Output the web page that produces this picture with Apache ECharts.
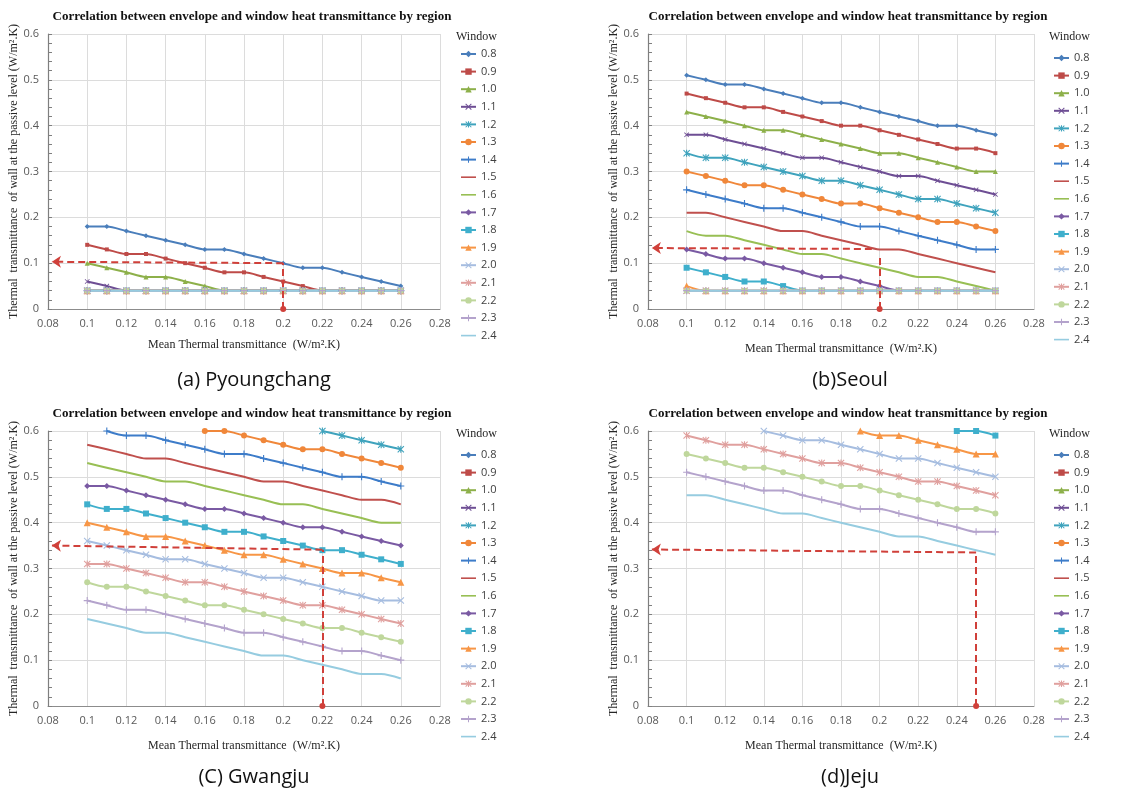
<!DOCTYPE html>
<html>
<head>
<meta charset="utf-8">
<title>Envelope vs window heat transmittance</title>
<script src="https://cdn.jsdelivr.net/npm/echarts@6/dist/echarts.min.js"></script>
<style>
    html, body { margin: 0; padding: 0; background: #fff; }
    #main { width: 1138px; height: 790px; }
</style>
</head>
<body>
<div id="main"></div>
<script>
    // x positions (mean thermal transmittance) and window U-values
    var xValues = [0.10, 0.11, 0.12, 0.13, 0.14, 0.15, 0.16, 0.17, 0.18, 0.19, 0.20, 0.21, 0.22, 0.23, 0.24, 0.25, 0.26];
    var windowLabels = ['0.8', '0.9', '1.0', '1.1', '1.2', '1.3', '1.4', '1.5', '1.6', '1.7', '1.8', '1.9', '2.0', '2.1', '2.2', '2.3', '2.4'];
    var xTicks = [0.08, 0.1, 0.12, 0.14, 0.16, 0.18, 0.2, 0.22, 0.24, 0.26, 0.28];
    var yTicks = [0, 0.1, 0.2, 0.3, 0.4, 0.5, 0.6];

    // one row per window value, null = off the chart (above 0.6)
    var pyoungchang = [
        [0.18, 0.18, 0.17, 0.16, 0.15, 0.14, 0.13, 0.13, 0.12, 0.11, 0.10, 0.09, 0.09, 0.08, 0.07, 0.06, 0.05],
        [0.14, 0.13, 0.12, 0.12, 0.11, 0.10, 0.09, 0.08, 0.08, 0.07, 0.06, 0.05, 0.04, 0.04, 0.04, 0.04, 0.04],
        [0.10, 0.09, 0.08, 0.07, 0.07, 0.06, 0.05, 0.04, 0.04, 0.04, 0.04, 0.04, 0.04, 0.04, 0.04, 0.04, 0.04],
        [0.06, 0.05, 0.04, 0.04, 0.04, 0.04, 0.04, 0.04, 0.04, 0.04, 0.04, 0.04, 0.04, 0.04, 0.04, 0.04, 0.04],
        [0.04, 0.04, 0.04, 0.04, 0.04, 0.04, 0.04, 0.04, 0.04, 0.04, 0.04, 0.04, 0.04, 0.04, 0.04, 0.04, 0.04],
        [0.04, 0.04, 0.04, 0.04, 0.04, 0.04, 0.04, 0.04, 0.04, 0.04, 0.04, 0.04, 0.04, 0.04, 0.04, 0.04, 0.04],
        [0.04, 0.04, 0.04, 0.04, 0.04, 0.04, 0.04, 0.04, 0.04, 0.04, 0.04, 0.04, 0.04, 0.04, 0.04, 0.04, 0.04],
        [0.04, 0.04, 0.04, 0.04, 0.04, 0.04, 0.04, 0.04, 0.04, 0.04, 0.04, 0.04, 0.04, 0.04, 0.04, 0.04, 0.04],
        [0.04, 0.04, 0.04, 0.04, 0.04, 0.04, 0.04, 0.04, 0.04, 0.04, 0.04, 0.04, 0.04, 0.04, 0.04, 0.04, 0.04],
        [0.04, 0.04, 0.04, 0.04, 0.04, 0.04, 0.04, 0.04, 0.04, 0.04, 0.04, 0.04, 0.04, 0.04, 0.04, 0.04, 0.04],
        [0.04, 0.04, 0.04, 0.04, 0.04, 0.04, 0.04, 0.04, 0.04, 0.04, 0.04, 0.04, 0.04, 0.04, 0.04, 0.04, 0.04],
        [0.04, 0.04, 0.04, 0.04, 0.04, 0.04, 0.04, 0.04, 0.04, 0.04, 0.04, 0.04, 0.04, 0.04, 0.04, 0.04, 0.04],
        [0.04, 0.04, 0.04, 0.04, 0.04, 0.04, 0.04, 0.04, 0.04, 0.04, 0.04, 0.04, 0.04, 0.04, 0.04, 0.04, 0.04],
        [0.04, 0.04, 0.04, 0.04, 0.04, 0.04, 0.04, 0.04, 0.04, 0.04, 0.04, 0.04, 0.04, 0.04, 0.04, 0.04, 0.04],
        [0.04, 0.04, 0.04, 0.04, 0.04, 0.04, 0.04, 0.04, 0.04, 0.04, 0.04, 0.04, 0.04, 0.04, 0.04, 0.04, 0.04],
        [0.04, 0.04, 0.04, 0.04, 0.04, 0.04, 0.04, 0.04, 0.04, 0.04, 0.04, 0.04, 0.04, 0.04, 0.04, 0.04, 0.04],
        [0.04, 0.04, 0.04, 0.04, 0.04, 0.04, 0.04, 0.04, 0.04, 0.04, 0.04, 0.04, 0.04, 0.04, 0.04, 0.04, 0.04]
    ];
    var seoul = [
        [0.51, 0.50, 0.49, 0.49, 0.48, 0.47, 0.46, 0.45, 0.45, 0.44, 0.43, 0.42, 0.41, 0.40, 0.40, 0.39, 0.38],
        [0.47, 0.46, 0.45, 0.44, 0.44, 0.43, 0.42, 0.41, 0.40, 0.40, 0.39, 0.38, 0.37, 0.36, 0.35, 0.35, 0.34],
        [0.43, 0.42, 0.41, 0.40, 0.39, 0.39, 0.38, 0.37, 0.36, 0.35, 0.34, 0.34, 0.33, 0.32, 0.31, 0.30, 0.30],
        [0.38, 0.38, 0.37, 0.36, 0.35, 0.34, 0.33, 0.33, 0.32, 0.31, 0.30, 0.29, 0.29, 0.28, 0.27, 0.26, 0.25],
        [0.34, 0.33, 0.33, 0.32, 0.31, 0.30, 0.29, 0.28, 0.28, 0.27, 0.26, 0.25, 0.24, 0.24, 0.23, 0.22, 0.21],
        [0.30, 0.29, 0.28, 0.27, 0.27, 0.26, 0.25, 0.24, 0.23, 0.23, 0.22, 0.21, 0.20, 0.19, 0.19, 0.18, 0.17],
        [0.26, 0.25, 0.24, 0.23, 0.22, 0.22, 0.21, 0.20, 0.19, 0.18, 0.18, 0.17, 0.16, 0.15, 0.14, 0.13, 0.13],
        [0.21, 0.21, 0.20, 0.19, 0.18, 0.17, 0.17, 0.16, 0.15, 0.14, 0.13, 0.13, 0.12, 0.11, 0.10, 0.09, 0.08],
        [0.17, 0.16, 0.16, 0.15, 0.14, 0.13, 0.12, 0.12, 0.11, 0.10, 0.09, 0.08, 0.07, 0.07, 0.06, 0.05, 0.04],
        [0.13, 0.12, 0.11, 0.11, 0.10, 0.09, 0.08, 0.07, 0.07, 0.06, 0.05, 0.04, 0.04, 0.04, 0.04, 0.04, 0.04],
        [0.09, 0.08, 0.07, 0.06, 0.06, 0.05, 0.04, 0.04, 0.04, 0.04, 0.04, 0.04, 0.04, 0.04, 0.04, 0.04, 0.04],
        [0.05, 0.04, 0.04, 0.04, 0.04, 0.04, 0.04, 0.04, 0.04, 0.04, 0.04, 0.04, 0.04, 0.04, 0.04, 0.04, 0.04],
        [0.04, 0.04, 0.04, 0.04, 0.04, 0.04, 0.04, 0.04, 0.04, 0.04, 0.04, 0.04, 0.04, 0.04, 0.04, 0.04, 0.04],
        [0.04, 0.04, 0.04, 0.04, 0.04, 0.04, 0.04, 0.04, 0.04, 0.04, 0.04, 0.04, 0.04, 0.04, 0.04, 0.04, 0.04],
        [0.04, 0.04, 0.04, 0.04, 0.04, 0.04, 0.04, 0.04, 0.04, 0.04, 0.04, 0.04, 0.04, 0.04, 0.04, 0.04, 0.04],
        [0.04, 0.04, 0.04, 0.04, 0.04, 0.04, 0.04, 0.04, 0.04, 0.04, 0.04, 0.04, 0.04, 0.04, 0.04, 0.04, 0.04],
        [0.04, 0.04, 0.04, 0.04, 0.04, 0.04, 0.04, 0.04, 0.04, 0.04, 0.04, 0.04, 0.04, 0.04, 0.04, 0.04, 0.04]
    ];
    var gwangju = [
        [null, null, null, null, null, null, null, null, null, null, null, null, null, null, null, null, null],
        [null, null, null, null, null, null, null, null, null, null, null, null, null, null, null, null, null],
        [null, null, null, null, null, null, null, null, null, null, null, null, null, null, null, null, null],
        [null, null, null, null, null, null, null, null, null, null, null, null, null, null, null, null, null],
        [null, null, null, null, null, null, null, null, null, null, null, null, 0.60, 0.59, 0.58, 0.57, 0.56],
        [null, null, null, null, null, null, 0.60, 0.60, 0.59, 0.58, 0.57, 0.56, 0.56, 0.55, 0.54, 0.53, 0.52],
        [null, 0.60, 0.59, 0.59, 0.58, 0.57, 0.56, 0.55, 0.55, 0.54, 0.53, 0.52, 0.51, 0.50, 0.50, 0.49, 0.48],
        [0.57, 0.56, 0.55, 0.54, 0.54, 0.53, 0.52, 0.51, 0.50, 0.49, 0.49, 0.48, 0.47, 0.46, 0.45, 0.45, 0.44],
        [0.53, 0.52, 0.51, 0.50, 0.49, 0.49, 0.48, 0.47, 0.46, 0.45, 0.44, 0.44, 0.43, 0.42, 0.41, 0.40, 0.40],
        [0.48, 0.48, 0.47, 0.46, 0.45, 0.44, 0.43, 0.43, 0.42, 0.41, 0.40, 0.39, 0.39, 0.38, 0.37, 0.36, 0.35],
        [0.44, 0.43, 0.43, 0.42, 0.41, 0.40, 0.39, 0.38, 0.38, 0.37, 0.36, 0.35, 0.34, 0.34, 0.33, 0.32, 0.31],
        [0.40, 0.39, 0.38, 0.37, 0.37, 0.36, 0.35, 0.34, 0.33, 0.33, 0.32, 0.31, 0.30, 0.29, 0.29, 0.28, 0.27],
        [0.36, 0.35, 0.34, 0.33, 0.32, 0.32, 0.31, 0.30, 0.29, 0.28, 0.28, 0.27, 0.26, 0.25, 0.24, 0.23, 0.23],
        [0.31, 0.31, 0.30, 0.29, 0.28, 0.27, 0.27, 0.26, 0.25, 0.24, 0.23, 0.22, 0.22, 0.21, 0.20, 0.19, 0.18],
        [0.27, 0.26, 0.26, 0.25, 0.24, 0.23, 0.22, 0.22, 0.21, 0.20, 0.19, 0.18, 0.17, 0.17, 0.16, 0.15, 0.14],
        [0.23, 0.22, 0.21, 0.21, 0.20, 0.19, 0.18, 0.17, 0.16, 0.16, 0.15, 0.14, 0.13, 0.12, 0.12, 0.11, 0.10],
        [0.19, 0.18, 0.17, 0.16, 0.16, 0.15, 0.14, 0.13, 0.12, 0.11, 0.11, 0.10, 0.09, 0.08, 0.07, 0.07, 0.06]
    ];
    var jeju = [
        [null, null, null, null, null, null, null, null, null, null, null, null, null, null, null, null, null],
        [null, null, null, null, null, null, null, null, null, null, null, null, null, null, null, null, null],
        [null, null, null, null, null, null, null, null, null, null, null, null, null, null, null, null, null],
        [null, null, null, null, null, null, null, null, null, null, null, null, null, null, null, null, null],
        [null, null, null, null, null, null, null, null, null, null, null, null, null, null, null, null, null],
        [null, null, null, null, null, null, null, null, null, null, null, null, null, null, null, null, null],
        [null, null, null, null, null, null, null, null, null, null, null, null, null, null, null, null, null],
        [null, null, null, null, null, null, null, null, null, null, null, null, null, null, null, null, null],
        [null, null, null, null, null, null, null, null, null, null, null, null, null, null, null, null, null],
        [null, null, null, null, null, null, null, null, null, null, null, null, null, null, null, null, null],
        [null, null, null, null, null, null, null, null, null, null, null, null, null, null, 0.60, 0.60, 0.59],
        [null, null, null, null, null, null, null, null, null, 0.60, 0.59, 0.59, 0.58, 0.57, 0.56, 0.55, 0.55],
        [null, null, null, null, 0.60, 0.59, 0.58, 0.58, 0.57, 0.56, 0.55, 0.54, 0.54, 0.53, 0.52, 0.51, 0.50],
        [0.59, 0.58, 0.57, 0.57, 0.56, 0.55, 0.54, 0.53, 0.53, 0.52, 0.51, 0.50, 0.49, 0.49, 0.48, 0.47, 0.46],
        [0.55, 0.54, 0.53, 0.52, 0.52, 0.51, 0.50, 0.49, 0.48, 0.48, 0.47, 0.46, 0.45, 0.44, 0.43, 0.43, 0.42],
        [0.51, 0.50, 0.49, 0.48, 0.47, 0.47, 0.46, 0.45, 0.44, 0.43, 0.43, 0.42, 0.41, 0.40, 0.39, 0.38, 0.38],
        [0.46, 0.46, 0.45, 0.44, 0.43, 0.42, 0.42, 0.41, 0.40, 0.39, 0.38, 0.37, 0.37, 0.36, 0.35, 0.34, 0.33]
    ];
    var captions = ['(a) Pyoungchang', '(b)Seoul', '(C) Gwangju', '(d)Jeju'];

    // red dashed reading guides: vertical [x, y0, y1], horizontal [x0, y0, x1, y1]
    var guideVert = [[0.2, 0, 0.10], [0.2, 0, 0.116], [0.22, 0, 0.341], [0.25, 0, 0.336]];
    var guideHorz = [[0.2, 0.10, 0.082, 0.103], [0.196, 0.131, 0.082, 0.133], [0.22, 0.341, 0.082, 0.350], [0.25, 0.335, 0.082, 0.3415]];

    var chartTitle = 'Correlation between envelope and window heat transmittance by region';
    var xName = 'Mean Thermal transmittance  (W/m\u00b2.K)';
    var yName = 'Thermal  transmittance  of wall at the passive level (W/m\u00b2.K)';

    // excel-like markers
    var X = 'path://M0,1.1L1.1,0L10,8.9L8.9,10ZM8.9,0L10,1.1L1.1,10L0,8.9Z';
    var AST = 'path://M0,1.1L1.1,0L10,8.9L8.9,10ZM8.9,0L10,1.1L1.1,10L0,8.9ZM4.2,0L5.8,0L5.8,10L4.2,10Z';
    var PLUS = 'path://M4.2,0h1.6v4.2h4.2v1.6h-4.2v4.2h-1.6v-4.2h-4.2v-1.6h4.2z';
    var LINE_ICON = 'path://M0,0h24v2.6h-24z';
    var colors = ['#4A7EBB', '#BE4B48', '#8DB04A', '#6E4E94', '#3FA3BD', '#F0873A', '#3D7CC9', '#C0504D', '#98BF54', '#7A5AA3', '#3FAFCC', '#F79646',
        '#A6BDE0', '#E0A09E', '#BFD79C', '#B4A3CC', '#96CCE0'];
    var symbols = ['diamond', 'rect', 'triangle', X, AST, 'circle', PLUS, 'none', 'none', 'diamond', 'rect', 'triangle', X, AST, 'circle', PLUS, 'none'];
    var symSizes = [5, 4, 5, 5, 7, 6, 7, 0, 0, 6, 6, 7, 7, 7, 6, 7, 0];

    // panel layout
    var panels = [
        { left: 48, top: 34, width: 392, cx: 252, titleY: 10, legX: 460, legY: 48, winY: 31, capY: 370, xGap: 30 },
        { left: 648, top: 34, width: 386, cx: 848, titleY: 10, legX: 1053, legY: 52, winY: 31, capY: 370, xGap: 34 },
        { left: 48, top: 431, width: 392, cx: 252, titleY: 407, legX: 460, legY: 449, winY: 428, capY: 767, xGap: 34 },
        { left: 648, top: 431, width: 386, cx: 848, titleY: 407, legX: 1053, legY: 449, winY: 428, capY: 767, xGap: 34 }
    ];
    var regions = [pyoungchang, seoul, gwangju, jeju];

    var serif = '"Liberation Serif", "Times New Roman", serif';
    var sans = '"Open Sans", "Noto Sans", sans-serif';

    var legendData = windowLabels.map(function (name, k) {
        return symbols[k] === 'none' ? { name: name, icon: LINE_ICON } : { name: name };
    });

    var grids = [], xAxes = [], yAxes = [], legends = [], titles = [], series = [];

    panels.forEach(function (p, g) {
        grids.push({ left: p.left, top: p.top, width: p.width, height: 275, containLabel: false });
        xAxes.push({
            type: 'value', gridIndex: g, min: xTicks[0], max: xTicks[xTicks.length - 1], interval: 0.02,
            name: xName, nameLocation: 'middle', nameGap: p.xGap,
            nameTextStyle: { fontFamily: serif, fontSize: 12, color: '#262626' },
            axisLine: { show: true, lineStyle: { color: '#8C8C8C', width: 1 } },
            axisTick: { show: false },
            axisLabel: { fontFamily: sans, fontSize: 11, color: '#595959', margin: 9,
                formatter: function (v) { return String(+v.toFixed(2)); } },
            splitLine: { show: true, lineStyle: { color: '#DCDCDC', width: 1 } }
        });
        yAxes.push({
            type: 'value', gridIndex: g, min: yTicks[0], max: yTicks[yTicks.length - 1], interval: 0.1,
            name: yName, nameLocation: 'middle', nameGap: 28,
            nameTextStyle: { fontFamily: serif, fontSize: 12, color: '#262626' },
            axisLine: { show: true, lineStyle: { color: '#7F7F7F', width: 1.2 } },
            axisTick: { show: true, inside: true, length: 4, lineStyle: { color: '#7F7F7F' } },
            minorTick: { show: true, splitNumber: 5, length: 4, lineStyle: { color: '#7F7F7F' } },
            axisLabel: { fontFamily: sans, fontSize: 11, color: '#595959', margin: 9,
                formatter: function (v) { return String(+v.toFixed(2)); } },
            splitLine: { show: true, lineStyle: { color: '#DCDCDC', width: 1 } }
        });
        legends.push({
            orient: 'vertical', left: p.legX, top: p.legY, padding: 0,
            itemWidth: 15, itemHeight: 8, itemGap: 5.6,
            data: legendData,
            textStyle: { fontFamily: sans, fontSize: 11, color: '#404040', lineHeight: 12 }
        });
        titles.push({
            text: chartTitle, left: p.cx, top: p.titleY, textAlign: 'center', padding: 0,
            textStyle: { fontFamily: serif, fontSize: 13, fontWeight: 'bold', color: '#111' }
        });
        titles.push({
            text: 'Window', left: p.legX - 4, top: p.winY, padding: 0,
            textStyle: { fontFamily: serif, fontSize: 12, fontWeight: 'normal', color: '#262626' }
        });
        titles.push({
            text: captions[g], left: p.cx + 2, top: p.capY, textAlign: 'center', padding: 0,
            textStyle: { fontFamily: sans, fontSize: 20, fontWeight: 'normal', color: '#111' }
        });

        regions[g].forEach(function (vals, k) {
            series.push({
                name: windowLabels[k], type: 'line', xAxisIndex: g, yAxisIndex: g,
                data: vals.map(function (v, i) { return [xValues[i], v === null ? '-' : v]; }),
                smooth: 0.3,
                color: colors[k],
                symbol: symbols[k], symbolSize: symSizes[k], showSymbol: symbols[k] !== 'none',
                lineStyle: { width: 2, color: colors[k] },
                itemStyle: { color: colors[k] },
                emphasis: { disabled: true }
            });
        });

        var v = guideVert[g], h = guideHorz[g];
        series.push({
            type: 'line', xAxisIndex: g, yAxisIndex: g, data: [], silent: true,
            markLine: {
                silent: true, animation: false,
                symbolSize: 7,
                label: { show: false },
                lineStyle: { color: '#D0403A', width: 2, type: [7, 4] },
                emphasis: { disabled: true },
                data: [
                    [{ coord: [v[0], v[1]], symbol: 'circle', symbolSize: 6 }, { coord: [v[0], v[2]], symbol: 'none' }],
                    [{ coord: [h[0], h[1]], symbol: 'none' }, { coord: [h[2], h[3]], symbol: 'arrow', symbolSize: 9 }]
                ]
            }
        });
    });

    var chart = echarts.init(document.getElementById('main'), null, { renderer: 'canvas' });
    chart.setOption({
        backgroundColor: '#fff',
        animation: false,
        title: titles,
        legend: legends,
        grid: grids,
        xAxis: xAxes,
        yAxis: yAxes,
        series: series
    });
</script>
</body>
</html>
